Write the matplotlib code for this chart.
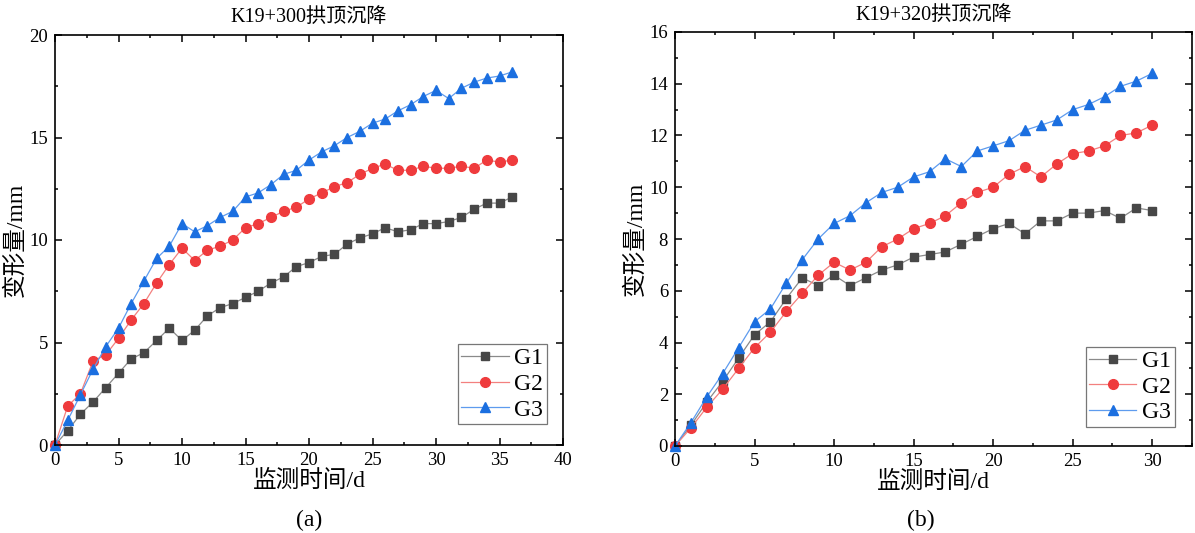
import numpy as np
import matplotlib
matplotlib.use("Agg")
import matplotlib.pyplot as plt
from matplotlib.ticker import MultipleLocator

plt.rcParams['font.family'] = ['Liberation Serif', 'Noto Sans CJK SC']
plt.rcParams['axes.unicode_minus'] = False

# data
days_a = list(range(37))
g1_a = [0, 0.7, 1.5, 2.1, 2.8, 3.5, 4.2, 4.5, 5.1, 5.7, 5.1, 5.6, 6.3, 6.7, 6.9, 7.2, 7.5, 7.9, 8.2,
        8.7, 8.9, 9.2, 9.3, 9.8, 10.1, 10.3, 10.6, 10.4, 10.5, 10.8, 10.8, 10.9, 11.1, 11.5, 11.8, 11.8, 12.1]
g2_a = [0, 1.9, 2.5, 4.1, 4.4, 5.2, 6.1, 6.9, 7.9, 8.8, 9.6, 9.0, 9.5, 9.7, 10.0, 10.6, 10.8, 11.1, 11.4,
        11.6, 12.0, 12.3, 12.6, 12.8, 13.2, 13.5, 13.7, 13.4, 13.4, 13.6, 13.5, 13.5, 13.6, 13.5, 13.9, 13.8, 13.9]
g3_a = [0, 1.2, 2.45, 3.7, 4.8, 5.7, 6.9, 8.0, 9.1, 9.7, 10.8, 10.4, 10.7, 11.1, 11.4, 12.1, 12.3, 12.7, 13.2,
        13.4, 13.9, 14.3, 14.6, 15.0, 15.3, 15.7, 15.9, 16.3, 16.6, 17.0, 17.3, 16.9, 17.4, 17.7, 17.9, 18.0, 18.2]

days_b = list(range(31))
g1_b = [0, 0.8, 1.7, 2.5, 3.4, 4.3, 4.8, 5.7, 6.5, 6.2, 6.6, 6.2, 6.5, 6.8, 7.0, 7.3, 7.4, 7.5, 7.8, 8.1,
        8.4, 8.6, 8.2, 8.7, 8.7, 9.0, 9.0, 9.1, 8.8, 9.2, 9.1]
g2_b = [0, 0.7, 1.5, 2.2, 3.0, 3.8, 4.4, 5.2, 5.9, 6.6, 7.1, 6.8, 7.1, 7.7, 8.0, 8.4, 8.6, 8.9, 9.4, 9.8,
        10.0, 10.5, 10.8, 10.4, 10.9, 11.3, 11.4, 11.6, 12.0, 12.1, 12.4]
g3_b = [0, 0.9, 1.9, 2.8, 3.8, 4.8, 5.3, 6.3, 7.2, 8.0, 8.6, 8.9, 9.4, 9.8, 10.0, 10.4, 10.6, 11.1, 10.8, 11.4,
        11.6, 11.8, 12.2, 12.4, 12.6, 13.0, 13.2, 13.5, 13.9, 14.1, 14.4]

labels = ['G1', 'G2', 'G3']
# (marker, marker colour, line colour, marker size)
styles = [('s', '#474747', '#8a8a8a', 6.2),
          ('o', '#ef3b3d', '#f3807f', 7.0),
          ('^', '#1b6fe0', '#5e9bee', 7.8)]


def panel(ax, x, series, title, xlim, ylim, xmaj, ymaj, leg_anchor):
    for y, lab, (m, mc, lc, ms) in zip(series, labels, styles):
        ax.plot(x, y, color=lc, lw=0.9, marker=m, ms=ms, mfc=mc, mec=mc,
                label=lab, clip_on=False)
    ax.set_xlim(*xlim)
    ax.set_ylim(*ylim)
    ax.xaxis.set_major_locator(MultipleLocator(xmaj))
    ax.xaxis.set_minor_locator(MultipleLocator(xmaj / 2))
    ax.yaxis.set_major_locator(MultipleLocator(ymaj))
    ax.yaxis.set_minor_locator(MultipleLocator(ymaj / 2))
    ax.tick_params(which='both', direction='in', top=True, right=True, labelsize=13.5, width=1.1)
    ax.tick_params(which='major', length=5, pad=5)
    ax.tick_params(which='minor', length=2.5)
    for s in ax.spines.values():
        s.set_linewidth(1.2)
    ax.set_title(title, fontsize=14.5, pad=9)
    ax.set_xlabel('监测时间/d', fontsize=17, labelpad=1)
    ax.set_ylabel('变形量/mm', fontsize=17, labelpad=2)
    leg = ax.legend(loc='lower right', bbox_to_anchor=leg_anchor, fontsize=17,
                    frameon=True, fancybox=False, edgecolor='#555555',
                    handlelength=2.0, handletextpad=0.25, borderpad=0.15,
                    labelspacing=0.18, borderaxespad=0)
    leg.get_frame().set_linewidth(0.9)


fig = plt.figure(figsize=(11.95, 5.33), dpi=100)
ax1 = fig.add_axes([55 / 1195, 88 / 533, 508 / 1195, 410 / 533])
ax2 = fig.add_axes([675 / 1195, 87 / 533, 517 / 1195, 414 / 533])

panel(ax1, days_a, [g1_a, g2_a, g3_a], 'K19+300拱顶沉降', (0, 40), (0, 20), 5, 5, (0.9685, 0.051))
panel(ax2, days_b, [g1_b, g2_b, g3_b], 'K19+320拱顶沉降', (0, 32.5), (0, 16), 5, 2, (0.967, 0.046))

fig.text(309 / 1195, 1 - 520 / 533, '(a)', ha='center', va='center', fontsize=17)
fig.text(921 / 1195, 1 - 520 / 533, '(b)', ha='center', va='center', fontsize=17)

fig.savefig('out.png', dpi=100)
